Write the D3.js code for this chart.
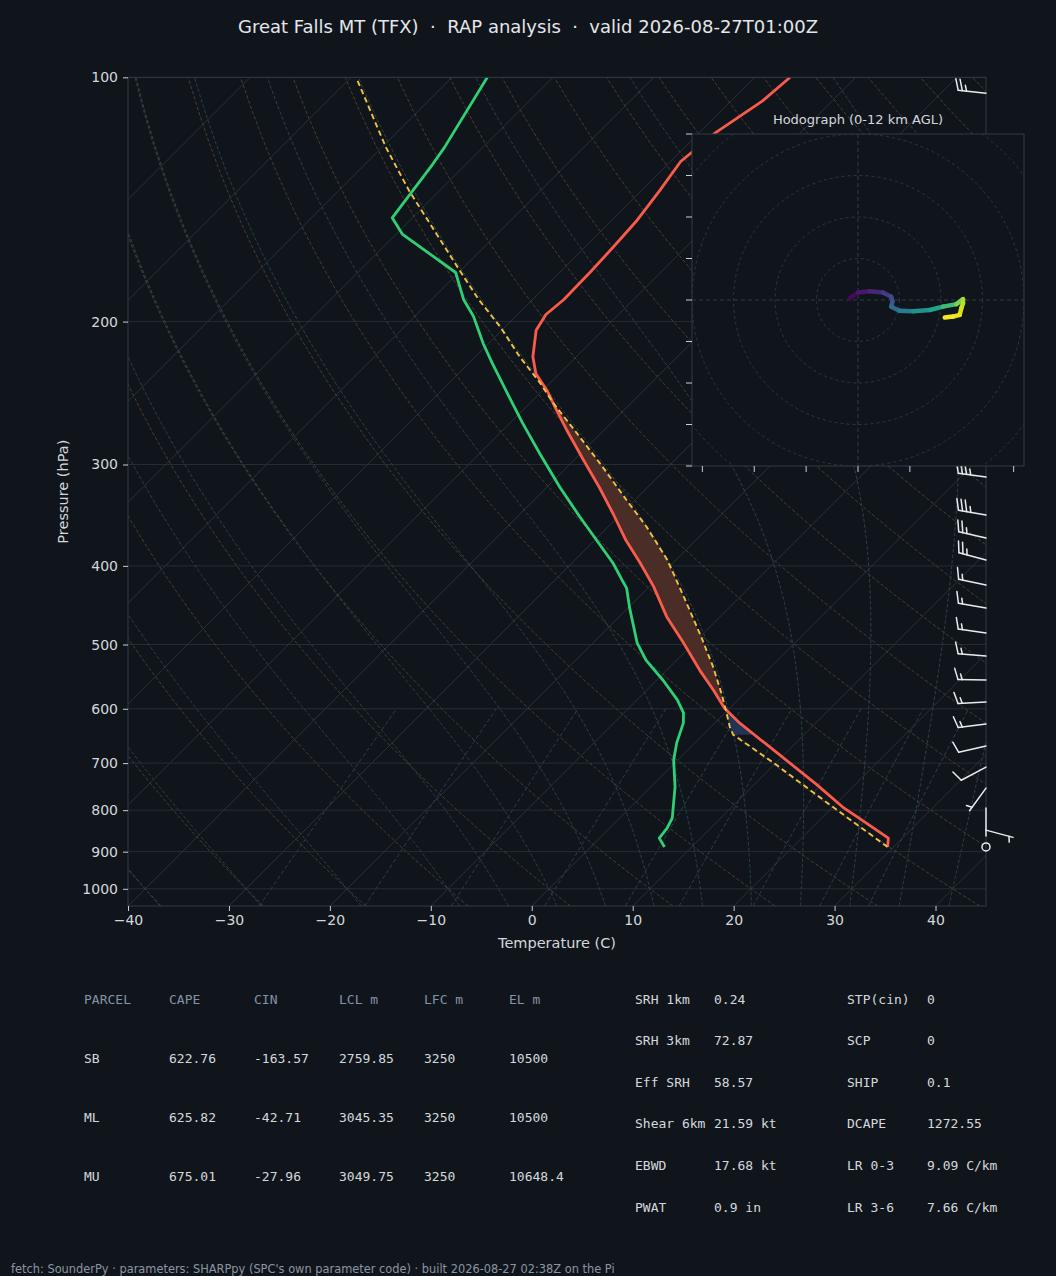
<!doctype html>
<html>
<head>
<meta charset="UTF-8">
<title>TFX sounding</title>
<script src="https://d3js.org/d3.v7.min.js"></script>
<style>
  body{margin:0;background:#10151b;}
  text{font-family:"DejaVu Sans",sans-serif;}
  .mono{font-family:"DejaVu Sans Mono",monospace;}
</style>
</head>
<body>
<script>
// ---- sounding ----
var tempP  = [888, 866, 820, 793, 743, 684, 625, 599, 569, 538, 498, 462, 424, 397, 372, 345, 320, 296, 272, 257, 243, 232, 221, 205, 196, 188, 174, 162, 150, 138, 127, 117, 107, 100];
var tempC  = [29.4, 28.6, 23.9, 21.0, 16.1, 9.6, 2.5, -0.5, -3.4, -6.7, -11.0, -15.3, -19.6, -23.2, -26.9, -30.8, -34.8, -39.1, -43.7, -46.7, -49.6, -52.3, -54.3, -56.6, -57.2, -56.9, -57.0, -57.2, -57.5, -58.2, -59.0, -58.4, -56.9, -56.5];

var dewP   = [888, 866, 842, 818, 749, 694, 661, 625, 607, 585, 553, 523, 498, 450, 426, 416, 397, 372, 348, 320, 291, 267, 248, 225, 213, 197, 188, 174, 156, 149, 128, 122, 100];
var dewC   = [7.3, 5.9, 5.7, 5.2, 2.4, -0.4, -1.8, -3.1, -4.1, -6.0, -9.4, -13.0, -15.6, -19.9, -22.1, -23.4, -25.9, -29.8, -33.8, -38.7, -44.0, -48.7, -52.6, -57.7, -60.5, -64.2, -66.8, -70.3, -79.4, -82.0, -83.3, -83.8, -86.5];

var parcelP = [888, 839, 782, 698, 646, 632, 602, 574, 533, 490, 439, 393, 358, 332, 299, 270, 252, 238, 221, 203, 188, 173, 138, 122, 100];
var parcelC = [29.4, 24.7, 18.9, 9.6, 3.0, 1.9, -0.2, -2.3, -5.7, -9.8, -15.3, -20.9, -26.2, -30.8, -37.1, -43.4, -47.7, -51.0, -55.6, -60.5, -65.3, -70.1, -83.0, -89.6, -99.5];
var lclP = 646;

// wind barbs (kt, direction from)
var barbP   = [104.6, 310.9, 346.3, 369.6, 393.4, 422.4, 450.9, 483.9, 516.7, 553.1, 588.7, 626.6, 666.9, 708, 751.4, 795.3, 846.6, 888];
var barbDir = [276, 278, 280, 283, 285, 282, 280, 278, 275, 271, 267, 263, 257, 242, 216, 180, 105, 0];
var barbSpd = [25, 35, 35, 25, 25, 15, 15, 15, 15, 15, 15, 15, 10, 10, 5, 2, 5, 0];

// hodograph trace (u, v) and height km AGL
var hodoU = [-2.0, 0.0, 2.8, 6.0, 8.0, 8.3, 8.0, 10.0, 13.3, 17.3, 20.5, 23.7, 25.3, 25.3, 24.9, 24.5, 22.9, 20.9];
var hodoV = [0.4, 1.8, 2.1, 1.8, 0.8, -0.4, -1.6, -2.6, -2.7, -2.4, -1.6, -1.0, 0.2, -0.8, -2.0, -3.6, -4.0, -4.2];
var hodoZ = [0, 0.5, 1.0, 1.5, 2.5, 3.0, 3.5, 4.5, 5.5, 6.5, 7.5, 9.0, 10.2, 10.6, 11.0, 11.4, 11.7, 12.0];

// axis ticks
var pTicks = [100, 200, 300, 400, 500, 600, 700, 800, 900, 1000];
var tTicks = [-40, -30, -20, -10, 0, 10, 20, 30, 40];

// parameter tables
var parcelHead = ["PARCEL", "CAPE", "CIN", "LCL m", "LFC m", "EL m"];
var parcelRows = [
  ["SB", "622.76", "-163.57", "2759.85", "3250", "10500"],
  ["ML", "625.82", "-42.71", "3045.35", "3250", "10500"],
  ["MU", "675.01", "-27.96", "3049.75", "3250", "10648.4"]
];
var kinLabels = ["SRH 1km", "SRH 3km", "Eff SRH", "Shear 6km", "EBWD", "PWAT"];
var kinValues = ["0.24", "72.87", "58.57", "21.59 kt", "17.68 kt", "0.9 in"];
var idxLabels = ["STP(cin)", "SCP", "SHIP", "DCAPE", "LR 0-3", "LR 3-6"];
var idxValues = ["0", "0", "0.1", "1272.55", "9.09 C/km", "7.66 C/km"];

// background line sets
var dryT0   = d3.range(-40, 201, 10);
var moistT0 = [-40, -30, -20, -10, -5, 0, 5, 10, 15, 20, 25, 30, 35, 40, 45];
var mixW    = [0.0004, 0.001, 0.002, 0.004, 0.007, 0.01, 0.016, 0.024, 0.032];

var bg = "#10151b";
var svg = d3.select("body").append("svg").attr("width", 1056).attr("height", 1276);
svg.append("rect").attr("width", 1056).attr("height", 1276).attr("fill", bg);

svg.append("text").attr("x", 528).attr("y", 33).attr("text-anchor", "middle")
   .attr("font-size", 18).attr("fill", "#e4e7eb")
   .style("white-space", "pre")
   .text("Great Falls MT (TFX)  \u00b7  RAP analysis  \u00b7  valid 2026-08-27T01:00Z");

// ---- skew-T ----
var L = 128, R = 986, T = 77.3, B = 906;
var x = d3.scaleLinear().domain([-40, 45]).range([L, R]);
var y = d3.scaleLog().domain([1050, 100]).range([B, T]);
function sx(t, p){ return x(t) + (B - y(p)); }

svg.append("clipPath").attr("id", "plotclip").append("rect")
   .attr("x", L).attr("y", T).attr("width", R - L).attr("height", B - T);
var plot = svg.append("g").attr("clip-path", "url(#plotclip)");

var line = d3.line().x(function(d){ return sx(d[1], d[0]); }).y(function(d){ return y(d[0]); });
var pGrid = d3.range(1050, 99, -10);

pTicks.forEach(function(p){
  plot.append("line").attr("x1", L).attr("x2", R).attr("y1", y(p)).attr("y2", y(p))
      .attr("stroke", "#252d37").attr("stroke-width", 1);
});
d3.range(-110, 50, 10).forEach(function(t){
  plot.append("path").datum([[1050, t], [100, t]]).attr("d", line)
      .attr("fill", "none").attr("stroke", "#29313b").attr("stroke-width", 1);
});
dryT0.forEach(function(th){
  var pts = pGrid.map(function(p){ return [p, (th + 273.15) * Math.pow(p / 1000, 0.2857) - 273.15]; });
  plot.append("path").datum(pts).attr("d", line).attr("fill", "none")
      .attr("stroke", "#4a3e30").attr("stroke-width", 1).attr("stroke-dasharray", "3.5,2");
});

function moist(t0){
  var Rd = 287.04, Cp = 1005.7, Lv = 2.501e6, eps = 0.622;
  function dTdp(Tk, p){
    var es = 6.112 * Math.exp(17.67 * (Tk - 273.15) / (Tk - 29.65));
    var rs = eps * es / (p - es);
    return (Rd * Tk + Lv * rs) / (Cp + Lv * Lv * rs * eps / (Rd * Tk * Tk)) / p;
  }
  function run(p0, p1, dp){
    var Tk = t0 + 273.15, p = p0, out = [[p, t0]];
    while ((dp < 0 && p > p1) || (dp > 0 && p < p1)){
      var k1 = dTdp(Tk, p), k2 = dTdp(Tk + k1 * dp / 2, p + dp / 2);
      Tk += k2 * dp; p += dp; out.push([p, Tk - 273.15]);
    }
    return out;
  }
  return run(1000, 1050, 5).reverse().concat(run(1000, 100, -5).slice(1));
}
moistT0.forEach(function(t0){
  plot.append("path").datum(moist(t0)).attr("d", line).attr("fill", "none")
      .attr("stroke", "#2a424a").attr("stroke-width", 1).attr("stroke-dasharray", "3.5,2");
});
mixW.forEach(function(w){
  var pts = d3.range(1050, 599, -10).map(function(p){
    var e = w * p / (0.622 + w), le = Math.log(e / 6.112);
    return [p, 243.5 * le / (17.67 - le)];
  });
  plot.append("path").datum(pts).attr("d", line).attr("fill", "none")
      .attr("stroke", "#2b3f50").attr("stroke-width", 1).attr("stroke-dasharray", "4,2.5");
});

// CAPE / CIN shading
function interp(ps, vs, p){
  for (var i = 0; i < ps.length - 1; i++){
    if (p <= ps[i] && p >= ps[i + 1]){
      var f = Math.log(ps[i] / p) / Math.log(ps[i] / ps[i + 1]);
      return vs[i] + f * (vs[i + 1] - vs[i]);
    }
  }
  return p > ps[0] ? vs[0] : vs[vs.length - 1];
}
var capeGrid = d3.range(888, 100, -1);
plot.append("path").datum(capeGrid).attr("fill", "#4a2d26")
   .attr("d", d3.area().y(function(p){ return y(p); })
     .x0(function(p){ return sx(interp(tempP, tempC, p), p); })
     .x1(function(p){ return sx(Math.max(interp(tempP, tempC, p), interp(parcelP, parcelC, p)), p); }));
var cinGrid = d3.range(lclP, 500, -1);
plot.append("path").datum(cinGrid).attr("fill", "#1f3457")
   .attr("d", d3.area().y(function(p){ return y(p); })
     .x0(function(p){ return sx(Math.min(interp(tempP, tempC, p), interp(parcelP, parcelC, p)), p); })
     .x1(function(p){ return sx(interp(tempP, tempC, p), p); }));

plot.append("path").datum(d3.zip(tempP, tempC)).attr("d", line).attr("fill", "none")
    .attr("stroke", "#fb5b4b").attr("stroke-width", 2.8).attr("stroke-linejoin", "round");
plot.append("path").datum(d3.zip(dewP, dewC)).attr("d", line).attr("fill", "none")
    .attr("stroke", "#2fcf76").attr("stroke-width", 2.8).attr("stroke-linejoin", "round");
plot.append("path").datum(d3.zip(parcelP, parcelC)).attr("d", line).attr("fill", "none")
    .attr("stroke", "#f3c13f").attr("stroke-width", 1.9).attr("stroke-dasharray", "5.5,3.5");

// frame and axes
svg.append("rect").attr("x", L).attr("y", T).attr("width", R - L).attr("height", B - T)
   .attr("fill", "none").attr("stroke", "#2f3a46").attr("stroke-width", 1);

var xAxis = svg.append("g").attr("transform", "translate(0," + B + ")")
   .call(d3.axisBottom(x).tickValues(tTicks).tickSize(5).tickPadding(4));
var yAxis = svg.append("g").attr("transform", "translate(" + L + ",0)")
   .call(d3.axisLeft(y).tickValues(pTicks).tickFormat(d3.format("d")).tickSize(5).tickPadding(5));
[xAxis, yAxis].forEach(function(a){
  a.select(".domain").remove();
  a.selectAll(".tick line").attr("stroke", "#c9ced4");
  a.selectAll(".tick text").attr("fill", "#d4d8dd").attr("font-size", 14)
   .attr("font-family", "DejaVu Sans");
});
svg.append("text").attr("x", (L + R) / 2).attr("y", 948).attr("text-anchor", "middle")
   .attr("font-size", 14.5).attr("fill", "#d4d8dd").text("Temperature (C)");
svg.append("text").attr("transform", "translate(68," + ((T + B) / 2) + ") rotate(-90)")
   .attr("text-anchor", "middle").attr("font-size", 14.5).attr("fill", "#d4d8dd").text("Pressure (hPa)");

// wind barbs
var barbs = svg.append("g").attr("stroke", "#e8ecf0").attr("stroke-width", 1.5)
   .attr("fill", "none").attr("stroke-linecap", "round");
barbP.forEach(function(p, i){
  var bx = R, by = y(p), spd = barbSpd[i];
  if (spd === 0){
    barbs.append("circle").attr("cx", bx).attr("cy", by).attr("r", 4);
    return;
  }
  var a = barbDir[i] * Math.PI / 180, len = 28;
  var s = [Math.sin(a), -Math.cos(a)], f = [-s[1], s[0]];
  var tip = [bx + len * s[0], by + len * s[1]];
  barbs.append("line").attr("x1", bx).attr("y1", by).attr("x2", tip[0]).attr("y2", tip[1]);
  var r = Math.round(spd / 5) * 5, nFlag = Math.floor(r / 50), nFull = Math.floor((r % 50) / 10), nHalf = (r % 10) >= 5 ? 1 : 0;
  var h = 0.4 * len, w = 0.125 * len, sp = 0.15 * len, off = 0;
  if (nFlag + nFull === 0 && nHalf) off = sp;
  function pt(d){ return [tip[0] - d * s[0], tip[1] - d * s[1]]; }
  for (var k = 0; k < nFlag; k++){
    var a0 = pt(off), a1 = pt(off + 2 * w);
    barbs.append("path").attr("fill", "#e8ecf0")
      .attr("d", "M" + a0 + "L" + [a0[0] + h * f[0] + w * s[0], a0[1] + h * f[1] + w * s[1]] + "L" + a1 + "Z");
    off += 2 * w + sp * 0.5;
  }
  for (var k2 = 0; k2 < nFull; k2++){
    var b0 = pt(off);
    barbs.append("line").attr("x1", b0[0]).attr("y1", b0[1])
      .attr("x2", b0[0] + h * f[0] + w * s[0]).attr("y2", b0[1] + h * f[1] + w * s[1]);
    off += sp;
  }
  if (nHalf){
    var c0 = pt(off);
    barbs.append("line").attr("x1", c0[0]).attr("y1", c0[1])
      .attr("x2", c0[0] + h / 2 * f[0] + w / 2 * s[0]).attr("y2", c0[1] + h / 2 * f[1] + w / 2 * s[1]);
  }
});

// ---- hodograph inset ----
var hx = d3.scaleLinear().domain([-40, 40]).range([692, 1024]);
var hy = d3.scaleLinear().domain([-40, 40]).range([466, 134]);
svg.append("clipPath").attr("id", "hodoclip").append("rect")
   .attr("x", 692).attr("y", 134).attr("width", 332).attr("height", 332);
svg.append("rect").attr("x", 692).attr("y", 134).attr("width", 332).attr("height", 332).attr("fill", bg);
var hodo = svg.append("g").attr("clip-path", "url(#hodoclip)");
[10, 20, 30, 40, 50].forEach(function(r){
  hodo.append("circle").attr("cx", hx(0)).attr("cy", hy(0)).attr("r", hx(r) - hx(0))
      .attr("fill", "none").attr("stroke", "#2c3744").attr("stroke-dasharray", "3,3");
});
hodo.append("line").attr("x1", 692).attr("x2", 1024).attr("y1", hy(0)).attr("y2", hy(0))
    .attr("stroke", "#2f3a46").attr("stroke-dasharray", "4,3");
hodo.append("line").attr("y1", 134).attr("y2", 466).attr("x1", hx(0)).attr("x2", hx(0))
    .attr("stroke", "#2f3a46").attr("stroke-dasharray", "4,3");
for (var i = 0; i < hodoU.length - 1; i++){
  hodo.append("line")
    .attr("x1", hx(hodoU[i])).attr("y1", hy(hodoV[i]))
    .attr("x2", hx(hodoU[i + 1])).attr("y2", hy(hodoV[i + 1]))
    .attr("stroke", d3.interpolateViridis((hodoZ[i] + hodoZ[i + 1]) / 24))
    .attr("stroke-width", 4.5).attr("stroke-linecap", "round");
}
svg.append("rect").attr("x", 692).attr("y", 134).attr("width", 332).attr("height", 332)
   .attr("fill", "none").attr("stroke", "#2f3a46");
d3.range(-40, 41, 10).forEach(function(v){
  svg.append("line").attr("x1", 686).attr("x2", 692).attr("y1", hy(v)).attr("y2", hy(v)).attr("stroke", "#c9ced4");
});
d3.range(-37.5, 38, 12.5).forEach(function(u){
  svg.append("line").attr("y1", 466).attr("y2", 472).attr("x1", hx(u)).attr("x2", hx(u)).attr("stroke", "#c9ced4");
});
svg.append("text").attr("x", 858).attr("y", 124).attr("text-anchor", "middle")
   .attr("font-size", 13).attr("fill", "#d4d8dd").text("Hodograph (0-12 km AGL)");

// ---- parameter tables ----
var colX = [84, 169, 254, 339, 424, 509], rowY = [999, 1058, 1117, 1176];
parcelHead.forEach(function(h, j){
  svg.append("text").attr("class", "mono").attr("x", colX[j]).attr("y", rowY[0]).attr("dy", "0.35em")
     .attr("font-size", 13).attr("fill", "#8393a8").text(h);
});
parcelRows.forEach(function(row, i){
  row.forEach(function(v, j){
    svg.append("text").attr("class", "mono").attr("x", colX[j]).attr("y", rowY[i + 1]).attr("dy", "0.35em")
       .attr("font-size", 13).attr("fill", "#d5d9de").text(v);
  });
});
kinLabels.forEach(function(l, i){
  var yy = 999 + i * 41.6;
  [[635, l], [714, kinValues[i]], [847, idxLabels[i]], [927, idxValues[i]]].forEach(function(c){
    svg.append("text").attr("class", "mono").attr("x", c[0]).attr("y", yy).attr("dy", "0.35em")
       .attr("font-size", 13).attr("fill", "#d5d9de").text(c[1]);
  });
});

svg.append("text").attr("x", 11).attr("y", 1273).attr("font-size", 11.4).attr("fill", "#8a95a3")
   .text("fetch: SounderPy \u00b7 parameters: SHARPpy (SPC's own parameter code) \u00b7 built 2026-08-27 02:38Z on the Pi");
</script>
</body>
</html>
